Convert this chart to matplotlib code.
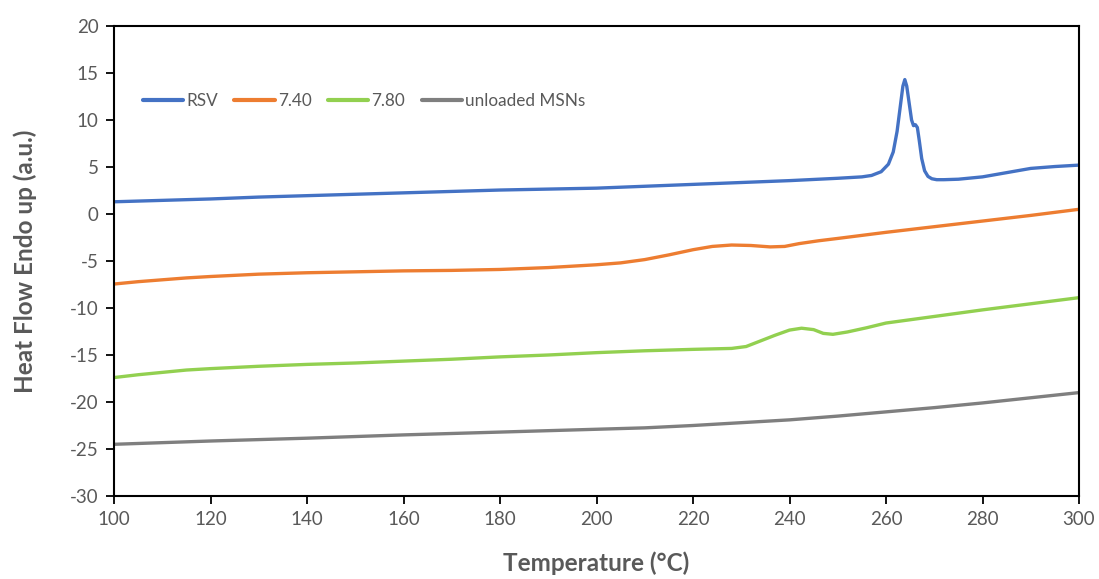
import matplotlib
matplotlib.use("Agg")
import matplotlib.pyplot as plt

# DSC thermograms: temperature (°C) vs heat flow (a.u.), endotherm up
rsv_t = [100, 110, 120, 130, 140, 150, 160, 170, 180, 190, 200, 210, 220, 230,
         240, 250, 255, 257, 259, 260.5, 261.5, 262.3, 263.0, 263.5, 263.9,
         264.3, 264.8, 265.3, 265.7, 266.1, 266.5, 266.9, 267.4, 268, 268.7,
         269.5, 270.5, 272, 275, 280, 285, 290, 295, 300]
rsv_v = [1.3, 1.45, 1.6, 1.8, 1.95, 2.1, 2.25, 2.4, 2.55, 2.65, 2.75, 2.95, 3.15,
         3.35, 3.55, 3.8, 3.95, 4.1, 4.5, 5.3, 6.6, 8.8, 11.6, 13.6, 14.3,
         13.6, 11.8, 10.0, 9.4, 9.5, 9.2, 7.8, 5.9, 4.6, 4.0, 3.75, 3.65,
         3.65, 3.7, 3.95, 4.4, 4.85, 5.05, 5.2]

f740_t = [100, 105, 110, 115, 120, 130, 140, 150, 160, 170, 180, 190, 200, 205,
          210, 215, 220, 224, 228, 232, 236, 239, 242, 246, 250, 260, 270, 280,
          290, 300]
f740_v = [-7.45, -7.2, -7.0, -6.8, -6.65, -6.4, -6.25, -6.15, -6.05, -6.0, -5.9,
          -5.7, -5.4, -5.2, -4.85, -4.35, -3.8, -3.45, -3.3, -3.35, -3.5, -3.45,
          -3.15, -2.85, -2.6, -1.95, -1.35, -0.75, -0.15, 0.5]

f780_t = [100, 105, 110, 115, 120, 130, 140, 150, 160, 170, 180, 190, 200, 210,
          220, 228, 231, 234, 237, 240, 242.5, 245, 247, 249, 252, 256, 260, 270,
          280, 290, 300]
f780_v = [-17.4, -17.1, -16.85, -16.6, -16.45, -16.2, -16.0, -15.85, -15.65,
          -15.45, -15.2, -15.0, -14.75, -14.55, -14.4, -14.3, -14.1, -13.5, -12.9,
          -12.35, -12.15, -12.3, -12.7, -12.8, -12.55, -12.1, -11.6, -10.9, -10.2,
          -9.55, -8.9]

msn_t = [100, 120, 140, 160, 180, 200, 210, 220, 230, 240, 250, 260, 270, 280,
         290, 300]
msn_v = [-24.5, -24.15, -23.85, -23.5, -23.2, -22.9, -22.75, -22.5, -22.2, -21.9,
         -21.5, -21.05, -20.6, -20.1, -19.55, -19.0]

labels = ["RSV", "7.40", "7.80", "unloaded MSNs"]
colors = ["#4472C4", "#ED7D31", "#92D050", "#7F7F7F"]

x_ticks = list(range(100, 301, 20))
y_ticks = list(range(-30, 21, 5))

plt.rcParams["font.family"] = ["Lato", "DejaVu Sans"]
plt.rcParams["axes.unicode_minus"] = False
text_grey = "#595959"

fig = plt.figure(figsize=(10.99, 5.79), dpi=100)
ax = fig.add_axes([114 / 1099, 1 - 496 / 579, 965 / 1099, 470 / 579])

series = [(rsv_t, rsv_v), (f740_t, f740_v), (f780_t, f780_v), (msn_t, msn_v)]
for (t, v), lab, col in zip(series, labels, colors):
    ax.plot(t, v, color=col, lw=2.4, label=lab, solid_capstyle="round",
            solid_joinstyle="round")

ax.set_xlim(100, 300)
ax.set_ylim(-30, 20)
ax.set_xticks(x_ticks)
ax.set_yticks(y_ticks)
ax.tick_params(axis="both", direction="out", length=6, width=1.3,
               color="black", labelcolor=text_grey, labelsize=13.5, pad=5)
for sp in ax.spines.values():
    sp.set_linewidth(1.5)
    sp.set_color("black")

ax.set_xlabel("Temperature (°C)", fontsize=17.5, fontweight="bold",
              color=text_grey, labelpad=17)
ax.set_ylabel("Heat Flow Endo up (a.u.)", fontsize=17.5, fontweight="bold",
              color=text_grey, labelpad=24)

leg = ax.legend(loc="center left", bbox_to_anchor=(0.030, 0.840), ncol=4,
                frameon=False, fontsize=12.3, handlelength=2.35,
                handletextpad=0.2, columnspacing=0.95, borderaxespad=0,
                borderpad=0)
for txt in leg.get_texts():
    txt.set_color(text_grey)
for h in leg.get_lines():
    h.set_linewidth(3)

fig.savefig("out.png", dpi=100)
